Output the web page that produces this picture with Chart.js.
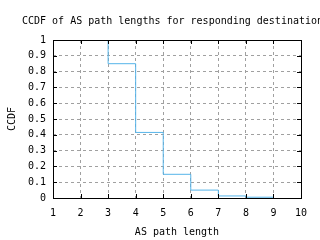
<!DOCTYPE html>
<html>
<head>
<meta charset="utf-8">
<script src="https://cdn.jsdelivr.net/npm/chart.js@4/dist/chart.umd.min.js"></script>
<style>
  html, body { margin: 0; padding: 0; background: #fff; }
  #wrap { width: 320px; height: 240px; }
</style>
</head>
<body>
<div id="wrap"><canvas id="myChart" width="320" height="240"></canvas></div>
<script>
'use strict';

let pathLengths = [3, 4, 5, 6, 7, 8, 9];
let ccdf = [1, 0.85, 0.415, 0.15, 0.05, 0.013, 0.005];
let xTicks = [1, 2, 3, 4, 5, 6, 7, 8, 9, 10];
let yTicks = [0, 0.1, 0.2, 0.3, 0.4, 0.5, 0.6, 0.7, 0.8, 0.9, 1];
let titleText = 'CCDF of AS path lengths for responding destinations';

const FONT = "'DejaVu Sans Mono', monospace";

// title is clipped on the right in the original, so draw it by hand
let titlePlugin = {
    id: 'leftTitle',
    afterDraw: function(chart) {
        let ctx = chart.ctx;
        ctx.save();
        ctx.font = '10px ' + FONT;
        ctx.fillStyle = '#000';
        ctx.textBaseline = 'middle';
        ctx.textAlign = 'left';
        ctx.fillText(titleText, 22, 21);
        ctx.restore();
    }
};

// full box border plus small inward tick marks
let boxPlugin = {
    id: 'box',
    afterDraw: function(chart) {
        let ctx = chart.ctx;
        let a = chart.chartArea;
        let xs = chart.scales.x, ys = chart.scales.y;
        ctx.save();
        ctx.strokeStyle = '#000';
        ctx.lineWidth = 1;
        ctx.beginPath();
        xTicks.forEach(function(v) {
            let px = Math.round(xs.getPixelForValue(v)) + 0.5;
            ctx.moveTo(px, a.bottom); ctx.lineTo(px, a.bottom - 4);
            ctx.moveTo(px, a.top); ctx.lineTo(px, a.top + 4);
        });
        yTicks.forEach(function(v) {
            let py = Math.round(ys.getPixelForValue(v)) + 0.5;
            ctx.moveTo(a.left, py); ctx.lineTo(a.left + 4, py);
            ctx.moveTo(a.right, py); ctx.lineTo(a.right - 4, py);
        });
        ctx.stroke();
        ctx.strokeRect(Math.round(a.left) + 0.5, Math.round(a.top) + 0.5,
            Math.round(a.right - a.left), Math.round(a.bottom - a.top));
        ctx.restore();
    }
};

let points = [];
for (let i = 0; i < pathLengths.length; i++) {
    points.push({ x: pathLengths[i], y: ccdf[i] });
}

let ctx = document.getElementById('myChart').getContext('2d');
let chart = new Chart(ctx, {
    type: 'line',
    data: {
        datasets: [{
            data: points,
            borderColor: '#56b4e9',
            borderWidth: 1,
            pointRadius: 0,
            fill: false,
            stepped: 'after',
        }]
    },
    options: {
        responsive: false,
        animation: false,
        layout: { padding: { top: 40, right: 19, left: 0, bottom: 0 } },
        plugins: {
            legend: { display: false },
            title: { display: false },
            tooltip: { enabled: false }
        },
        scales: {
            x: {
                type: 'linear',
                min: 1,
                max: 10,
                afterBuildTicks: function(scale) {
                    scale.ticks = xTicks.map(function(v) { return { value: v }; });
                },
                afterFit: function(scale) { scale.height = 42; },
                grid: {
                    color: '#a0a0a0',
                    drawTicks: false,
                },
                border: { display: false, dash: [3, 3] },
                ticks: {
                    color: '#000',
                    font: { family: FONT, size: 10 },
                    padding: 9,
                    maxRotation: 0,
                    autoSkip: false,
                },
                title: {
                    display: true,
                    text: 'AS path length',
                    color: '#000',
                    font: { family: FONT, size: 10 },
                    padding: { top: 0, bottom: 2 },
                }
            },
            y: {
                type: 'linear',
                min: 0,
                max: 1,
                afterBuildTicks: function(scale) {
                    scale.ticks = yTicks.map(function(v) { return { value: v }; });
                },
                afterFit: function(scale) { scale.width = 53; },
                grid: {
                    color: '#a0a0a0',
                    drawTicks: false,
                },
                border: { display: false, dash: [3, 3] },
                ticks: {
                    color: '#000',
                    font: { family: FONT, size: 10 },
                    padding: 7,
                    autoSkip: false,
                    callback: function(v) { return String(v); }
                },
                title: {
                    display: true,
                    text: 'CCDF',
                    color: '#000',
                    font: { family: FONT, size: 10 },
                    padding: { top: 6, bottom: 0 },
                }
            }
        }
    },
    plugins: [titlePlugin, boxPlugin]
});
</script>
</body>
</html>
